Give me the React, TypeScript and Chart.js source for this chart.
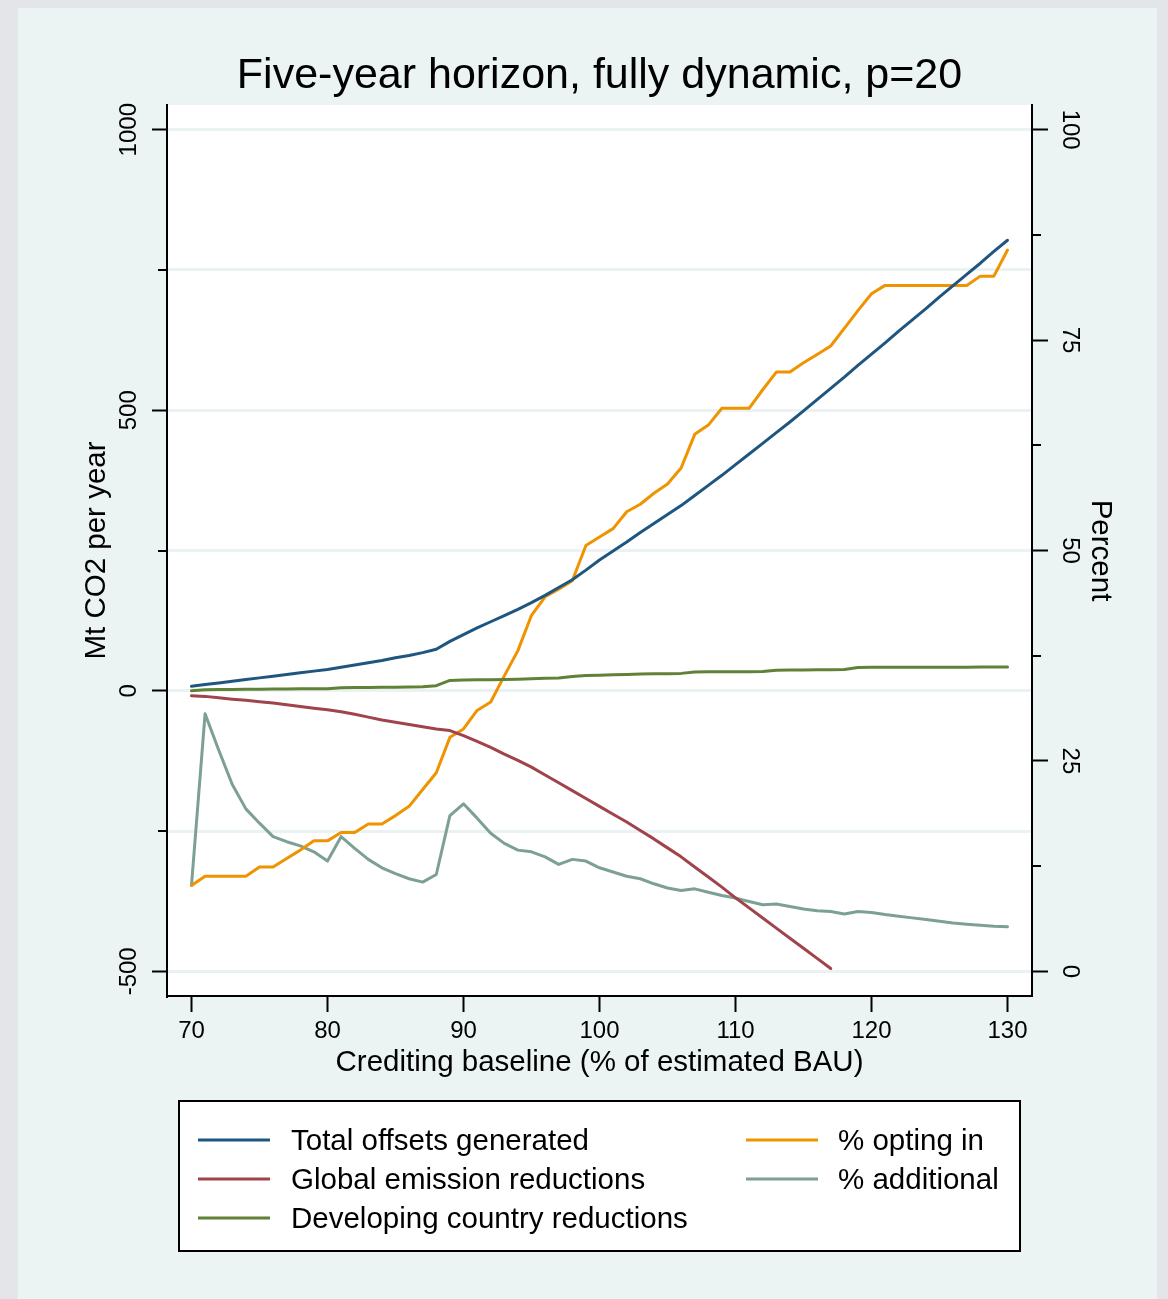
import React, { useEffect, useRef } from 'react';
import { Chart, registerables } from 'chart.js';

Chart.register(...registerables);

// ---------------- DATA ----------------
const baseline = [
  70, 71, 72, 73, 74, 75, 76, 77, 78, 79,
  80, 81, 82, 83, 84, 85, 86, 87, 88, 89,
  90, 91, 92, 93, 94, 95, 96, 97, 98, 99,
  100, 101, 102, 103, 104, 105, 106, 107, 108, 109,
  110, 111, 112, 113, 114, 115, 116, 117, 118, 119,
  120, 121, 122, 123, 124, 125, 126, 127, 128, 129,
  130,
];

// Mt CO2 per year (left axis)
const totalOffsets = [
  8, 11, 14, 17, 20, 23, 26, 29, 32, 35,
  38, 42, 46, 50, 54, 59, 63, 68, 74, 88,
  100, 112, 123, 134, 145, 157, 170, 184, 198, 215,
  233, 249, 265, 282, 298, 314, 330, 348, 366, 384,
  403, 422, 441, 460, 479, 499, 519, 539, 559, 580,
  600, 620, 641, 661, 681, 702, 722, 742, 762, 783,
  803,
];

// 70 .. 117
const globalReductions = [
  -9, -10, -12.5, -15, -17, -19.5, -22, -25, -28, -31,
  -34, -37.5, -42, -47, -52, -56, -60, -64, -68, -71,
  -80, -90, -101, -113, -124, -136, -150, -164, -178, -192,
  -206, -220, -234, -249, -264, -280, -296, -314, -332, -350,
  -369, -387, -405, -423, -441, -459, -477, -495,
];

const developingReductions = [
  0, 2, 2.2, 2.4, 2.6, 2.8, 3, 3.2, 3.4, 3.6,
  3.8, 5.5, 5.8, 6, 6.2, 6.4, 6.7, 7.2, 9, 18.5,
  19.2, 19.6, 19.8, 20, 20.5, 21.5, 22.2, 22.6, 25.5, 27,
  27.5, 28.5, 29, 30, 30.3, 30.5, 31, 33.5, 33.8, 34,
  34, 34, 34.2, 36.5, 37, 37, 37.3, 37.5, 38, 41.5,
  42, 42, 42, 42, 42, 42.1, 42.1, 42.1, 42.2, 42.2,
  42.2,
];

// Percent (right axis)
const pctOptingIn = [
  10.2, 11.3, 11.3, 11.3, 11.3, 12.4, 12.4, 13.4, 14.4, 15.5,
  15.5, 16.5, 16.5, 17.5, 17.5, 18.5, 19.6, 21.6, 23.6, 27.8,
  28.8, 31.0, 32.0, 35.1, 38.1, 42.3, 44.5, 45.4, 46.4, 50.6,
  51.6, 52.6, 54.6, 55.5, 56.8, 57.9, 59.8, 63.8, 64.9, 66.9,
  66.9, 66.9, 69.1, 71.2, 71.2, 72.3, 73.3, 74.3, 76.4, 78.5,
  80.5, 81.5, 81.5, 81.5, 81.5, 81.5, 81.5, 81.5, 82.6, 82.6,
  85.7,
];

const pctAdditional = [
  10.2, 30.6, 26.3, 22.2, 19.3, 17.6, 16.0, 15.4, 14.9, 14.2,
  13.1, 16.0, 14.6, 13.3, 12.3, 11.6, 11.0, 10.6, 11.5, 18.5,
  19.9, 18.2, 16.4, 15.2, 14.4, 14.2, 13.6, 12.7, 13.3, 13.1,
  12.3, 11.8, 11.3, 11.0, 10.4, 9.9, 9.6, 9.8, 9.4, 9.0,
  8.7, 8.3, 7.9, 8.0, 7.7, 7.4, 7.2, 7.1, 6.8, 7.1,
  7.0, 6.75, 6.55, 6.35, 6.15, 5.95, 5.75, 5.6, 5.48, 5.36,
  5.29,
];

const xTickValues = [70, 80, 90, 100, 110, 120, 130];
const leftTickValues = [-500, -250, 0, 250, 500, 750, 1000];
const leftLabeledTicks = [-500, 0, 500, 1000];
const rightTickValues = [0, 12.5, 25, 37.5, 50, 62.5, 75, 87.5, 100];
const rightLabeledTicks = [0, 25, 50, 75, 100];

const seriesLabels = [
  'Total offsets generated',
  'Global emission reductions',
  'Developing country reductions',
  '% opting in',
  '% additional',
];

const titleText = 'Five-year horizon, fully dynamic, p=20';
const xTitle = 'Crediting baseline (% of estimated BAU)';
const yLeftTitle = 'Mt CO2 per year';
const yRightTitle = 'Percent';

// ---------------- STYLE ----------------
const FONT = '"Liberation Sans", Arial, Helvetica, sans-serif';
const TICK_SIZE = 24;
const LABEL_SIZE = 29.5;
const TITLE_SIZE = 43;
const COLORS = ['#1e5680', '#a0434a', '#5f8236', '#ef9400', '#7da095'];
const OUTER_BG = '#e3e5e8';
const MINT_BG = '#ebf4f3';
const GRID = '#eaf2f3';

const W = 1168;
const H = 1299;
const Y_MIN = -544;
const Y_MAX = 1044;
const toPct = (v: number) => (v + 500) / 15;

const pts = (xs: number[], ys: number[]) => ys.map((y, i) => ({ x: xs[i], y }));

export default function App() {
  const ref = useRef<HTMLCanvasElement | null>(null);

  useEffect(() => {
    document.body.style.margin = '0';
    const canvas = ref.current;
    if (!canvas) return;

    const meas = document.createElement('canvas').getContext('2d')!;
    meas.font = `${TICK_SIZE}px ${FONT}`;
    const wL = Math.max(...leftLabeledTicks.map((v) => meas.measureText(String(v)).width));
    const wR = Math.max(...rightLabeledTicks.map((v) => meas.measureText(String(v)).width));

    const LEFT_TL = 15;
    const RIGHT_TL = 16;
    const leftPad = 167 - 129 - LEFT_TL - wL / 2;
    const rightPad = 1070 - 1032 - RIGHT_TL - wR / 2;

    const bgPlugin = {
      id: 'bg',
      beforeDraw(chart: any) {
        const { ctx, chartArea } = chart;
        ctx.save();
        ctx.fillStyle = OUTER_BG;
        ctx.fillRect(0, 0, W, H);
        ctx.fillStyle = MINT_BG;
        ctx.fillRect(18, 8, 1139, H - 8);
        ctx.fillStyle = '#ffffff';
        ctx.fillRect(chartArea.left, chartArea.top, chartArea.right - chartArea.left, chartArea.bottom - chartArea.top);
        ctx.restore();
      },
    };

    const minorTicksPlugin = {
      id: 'minorTicks',
      afterDatasetsDraw(chart: any) {
        const { ctx, chartArea, scales } = chart;
        ctx.save();
        ctx.strokeStyle = '#000';
        ctx.lineWidth = 2;
        leftTickValues.filter((v) => !leftLabeledTicks.includes(v)).forEach((v) => {
          const py = Math.round(scales.y.getPixelForValue(v));
          ctx.beginPath();
          ctx.moveTo(chartArea.left - 9, py);
          ctx.lineTo(chartArea.left, py);
          ctx.stroke();
        });
        rightTickValues.filter((v) => !rightLabeledTicks.includes(v)).forEach((v) => {
          const py = Math.round(scales.y1.getPixelForValue(v));
          ctx.beginPath();
          ctx.moveTo(chartArea.right, py);
          ctx.lineTo(chartArea.right + 9, py);
          ctx.stroke();
        });
        ctx.restore();
      },
    };

    const legendPlugin = {
      id: 'boxLegend',
      afterDraw(chart: any) {
        const { ctx } = chart;
        ctx.save();
        ctx.fillStyle = '#ffffff';
        ctx.fillRect(179, 1101, 841, 150);
        ctx.strokeStyle = '#000';
        ctx.lineWidth = 2;
        ctx.strokeRect(179, 1101, 841, 150);
        const slots = [
          { lx: 198, tx: 291, y: 1140 },
          { lx: 198, tx: 291, y: 1179 },
          { lx: 198, tx: 291, y: 1218 },
          { lx: 746, tx: 838, y: 1140 },
          { lx: 746, tx: 838, y: 1179 },
        ];
        ctx.font = `${LABEL_SIZE}px ${FONT}`;
        ctx.textBaseline = 'middle';
        ctx.textAlign = 'left';
        chart.data.datasets.forEach((ds: any, i: number) => {
          const s = slots[i];
          ctx.strokeStyle = ds.borderColor;
          ctx.lineWidth = 3;
          ctx.beginPath();
          ctx.moveTo(s.lx, s.y);
          ctx.lineTo(s.lx + 72, s.y);
          ctx.stroke();
          ctx.fillStyle = '#000';
          ctx.fillText(ds.label, s.tx, s.y + 1.5);
        });
        ctx.restore();
      },
    };

    const mk = (i: number, data: any[], axis: string) => ({
      label: seriesLabels[i],
      data,
      yAxisID: axis,
      borderColor: COLORS[i],
      backgroundColor: COLORS[i],
      borderWidth: 3,
      pointRadius: 0,
      tension: 0,
      fill: false,
      borderJoinStyle: 'round',
      borderCapStyle: 'round',
    });

    const chart = new Chart(canvas, {
      type: 'line',
      data: {
        datasets: [
          mk(0, pts(baseline, totalOffsets), 'y'),
          mk(1, pts(baseline, globalReductions), 'y'),
          mk(2, pts(baseline, developingReductions), 'y'),
          mk(3, pts(baseline, pctOptingIn), 'y1'),
          mk(4, pts(baseline, pctAdditional), 'y1'),
        ] as any,
      },
      options: {
        responsive: false,
        animation: false,
        devicePixelRatio: 1,
        layout: { padding: { top: 50, left: 0, right: 0, bottom: 213 } },
        plugins: {
          legend: { display: false },
          tooltip: { enabled: false },
          title: {
            display: true,
            text: titleText,
            color: '#000',
            fullSize: false,
            font: { family: FONT, size: TITLE_SIZE, weight: 'normal' },
            padding: { top: 0, bottom: 3.4 },
          } as any,
        },
        scales: {
          x: {
            type: 'linear',
            min: 68.2,
            max: 131.8,
            afterBuildTicks: (s: any) => { s.ticks = xTickValues.map((v) => ({ value: v })); },
            afterFit: (s: any) => { s.height = 90; },
            border: { display: true, color: '#000', width: 2 },
            grid: { drawOnChartArea: false, drawTicks: true, tickLength: 16, tickColor: '#000', tickWidth: 2 },
            ticks: {
              autoSkip: false,
              maxRotation: 0,
              minRotation: 0,
              padding: 4.5,
              color: '#000',
              font: { family: FONT, size: TICK_SIZE },
              callback: (v: any) => String(v),
            },
            title: {
              display: true,
              text: xTitle,
              color: '#000',
              font: { family: FONT, size: LABEL_SIZE },
              padding: { top: 0, bottom: 5 },
            },
          },
          y: {
            type: 'linear',
            position: 'left',
            min: Y_MIN,
            max: Y_MAX,
            afterBuildTicks: (s: any) => { s.ticks = leftTickValues.map((v) => ({ value: v })); },
            afterFit: (s: any) => { s.width = 167; },
            border: { display: true, color: '#000', width: 2 },
            grid: {
              color: GRID,
              lineWidth: 3,
              drawTicks: true,
              tickLength: LEFT_TL,
              tickWidth: 2,
              tickColor: (c: any) => (c.tick && leftLabeledTicks.includes(c.tick.value) ? '#000' : 'rgba(0,0,0,0)'),
            },
            ticks: {
              autoSkip: false,
              minRotation: 90,
              maxRotation: 90,
              crossAlign: 'center',
              padding: leftPad,
              color: '#000',
              font: { family: FONT, size: TICK_SIZE },
              callback: (v: any) => (leftLabeledTicks.includes(Number(v)) ? String(v) : ''),
            },
            title: {
              display: true,
              text: yLeftTitle,
              color: '#000',
              font: { family: FONT, size: LABEL_SIZE },
              padding: { top: 78.8, bottom: 0 },
            },
          },
          y1: {
            type: 'linear',
            position: 'right',
            min: toPct(Y_MIN),
            max: toPct(Y_MAX),
            afterBuildTicks: (s: any) => { s.ticks = rightTickValues.map((v) => ({ value: v })); },
            afterFit: (s: any) => { s.width = 136; },
            border: { display: true, color: '#000', width: 2 },
            grid: {
              drawOnChartArea: false,
              drawTicks: true,
              tickLength: RIGHT_TL,
              tickWidth: 2,
              tickColor: (c: any) => (c.tick && rightLabeledTicks.includes(c.tick.value) ? '#000' : 'rgba(0,0,0,0)'),
            },
            ticks: {
              autoSkip: false,
              minRotation: -90,
              maxRotation: -90,
              crossAlign: 'center',
              padding: rightPad,
              color: '#000',
              font: { family: FONT, size: TICK_SIZE },
              callback: (v: any) => (rightLabeledTicks.includes(Number(v)) ? String(v) : ''),
            },
            title: {
              display: true,
              text: yRightTitle,
              color: '#000',
              font: { family: FONT, size: LABEL_SIZE },
              padding: { top: 50.1, bottom: 0 },
            },
          },
        },
      } as any,
      plugins: [bgPlugin, minorTicksPlugin, legendPlugin],
    });

    return () => chart.destroy();
  }, []);

  return (
    <canvas
      ref={ref}
      width={W}
      height={H}
      style={{ display: 'block', width: W, height: H }}
    />
  );
}
